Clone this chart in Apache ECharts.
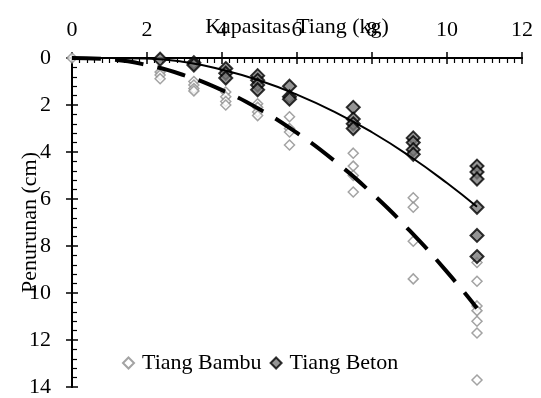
<!DOCTYPE html>
<html>
<head>
<meta charset="utf-8">
<script src="https://cdn.jsdelivr.net/npm/echarts@6/dist/echarts.min.js"></script>
<style>
    html, body { margin: 0; padding: 0; background: #fff; }
    #chart { width: 541px; height: 398px; }
</style>
</head>
<body>
<div id="chart"></div>
<script>
    // beban (kg) tiap kolom titik
    var kapasitas = [0, 2.35, 3.25, 4.1, 4.95, 5.8, 7.5, 9.1, 10.8];
    // penurunan (cm) per kolom
    var bambu = [
        [0],
        [0.6, 0.72, 0.88],
        [1.0, 1.15, 1.3, 1.4],
        [1.45, 1.65, 1.85, 2.0],
        [1.95, 2.1, 2.3, 2.45],
        [2.5, 3.0, 3.15, 3.7],
        [4.05, 4.6, 5.0, 5.7],
        [5.95, 6.35, 7.8, 9.4],
        [8.7, 9.5, 10.55, 10.75, 11.2, 11.7, 13.7]
    ];
    var beton = [
        [],
        [0.05],
        [0.2, 0.3],
        [0.45, 0.65, 0.85],
        [0.75, 0.95, 1.15, 1.35],
        [1.2, 1.65, 1.75],
        [2.1, 2.6, 2.8, 3.0],
        [3.4, 3.6, 3.9, 4.1],
        [4.6, 4.85, 5.15, 6.35, 7.55, 8.45]
    ];
    // garis trend
    var trendX = [0, 1, 2, 3, 4, 5, 6, 7, 8, 9, 10, 10.8];
    var trendBambu = [0, 0.06, 0.3, 0.74, 1.37, 2.18, 3.19, 4.38, 5.76, 7.34, 9.1, 10.65];
    var trendBeton = [0, 0, 0.02, 0.17, 0.5, 0.96, 1.56, 2.29, 3.16, 4.17, 5.32, 6.33];
    var xTicks = [0, 2, 4, 6, 8, 10, 12];
    var yTicks = [0, 2, 4, 6, 8, 10, 12, 14];

    function toPoints(cols) {
        var pts = [];
        cols.forEach(function (vals, i) {
            vals.forEach(function (v) { pts.push([kapasitas[i], v]); });
        });
        return pts;
    }
    function pairs(xs, ys) {
        return xs.map(function (x, i) { return [x, ys[i]]; });
    }

    var font = 'Liberation Serif';
    var chart = echarts.init(document.getElementById('chart'));
    var baseX = {
        type: 'value', position: 'top',
        min: xTicks[0], max: xTicks[xTicks.length - 1], interval: 2,
        splitLine: { show: false },
        axisLine: { onZero: false, lineStyle: { color: '#000', width: 2 } }
    };
    var baseY = {
        type: 'value', position: 'left', inverse: true,
        min: yTicks[0], max: yTicks[yTicks.length - 1], interval: 2,
        splitLine: { show: false },
        axisLine: { onZero: false, lineStyle: { color: '#000', width: 2 } }
    };
    var option = {
        animation: false,
        grid: { left: 72, right: 19, top: 58, bottom: 8 },
        legend: {
            left: 117, top: 347,
            itemWidth: 11, itemHeight: 11, itemGap: 8,
            textStyle: { fontFamily: font, fontSize: 22, color: '#000', padding: [0, 0, 0, 3] },
            data: ['Tiang Bambu', 'Tiang Beton']
        },
        xAxis: [
            Object.assign({}, baseX, {
                name: 'Kapasitas Tiang (kg)', nameLocation: 'middle', nameGap: 20,
                nameMoveOverlap: false,
                nameTextStyle: { fontFamily: font, fontSize: 22, color: '#000' },
                axisLabel: { fontFamily: font, fontSize: 22, color: '#000', margin: 17 },
                axisTick: { inside: true, length: 6, lineStyle: { color: '#000', width: 1.5 } },
                minorTick: { show: true, splitNumber: 10, length: 5, lineStyle: { color: '#000', width: 1.2 } }
            }),
            Object.assign({}, baseX, {
                axisLabel: { show: false },
                axisTick: { inside: false, length: 6, lineStyle: { color: '#000', width: 1.5 } }
            })
        ],
        yAxis: [
            Object.assign({}, baseY, {
                name: 'Penurunan (cm)', nameLocation: 'middle', nameGap: 31,
                nameMoveOverlap: false,
                nameTextStyle: { fontFamily: font, fontSize: 22, color: '#000' },
                axisLabel: { fontFamily: font, fontSize: 22, color: '#000', margin: 21 },
                axisTick: { inside: true, length: 6, lineStyle: { color: '#000', width: 1.5 } },
                minorTick: { show: true, splitNumber: 5, length: 5, lineStyle: { color: '#000', width: 1.2 } }
            }),
            Object.assign({}, baseY, {
                axisLabel: { show: false },
                axisTick: { inside: false, length: 6, lineStyle: { color: '#000', width: 1.5 } }
            })
        ],
        series: [
            {
                name: 'Tiang Bambu', type: 'scatter', symbol: 'diamond', symbolSize: 10,
                itemStyle: { color: '#fff', borderColor: '#8c8c8c', borderWidth: 1.5 },
                data: toPoints(bambu), z: 2
            },
            {
                name: 'Tiang Beton', type: 'scatter', symbol: 'diamond', symbolSize: 13,
                itemStyle: { color: '#7a7a7a', borderColor: '#000', borderWidth: 2 },
                data: toPoints(beton), z: 3
            },
            {
                name: 'trend bambu', type: 'line', smooth: true, showSymbol: false, clip: false,
                lineStyle: { color: '#000', width: 4, type: [29, 14] },
                data: pairs(trendX, trendBambu), z: 4
            },
            {
                name: 'trend beton', type: 'line', smooth: true, showSymbol: false, clip: false,
                lineStyle: { color: '#000', width: 2 },
                data: pairs(trendX, trendBeton), z: 4
            }
        ]
    };
    chart.setOption(option);
</script>
</body>
</html>
